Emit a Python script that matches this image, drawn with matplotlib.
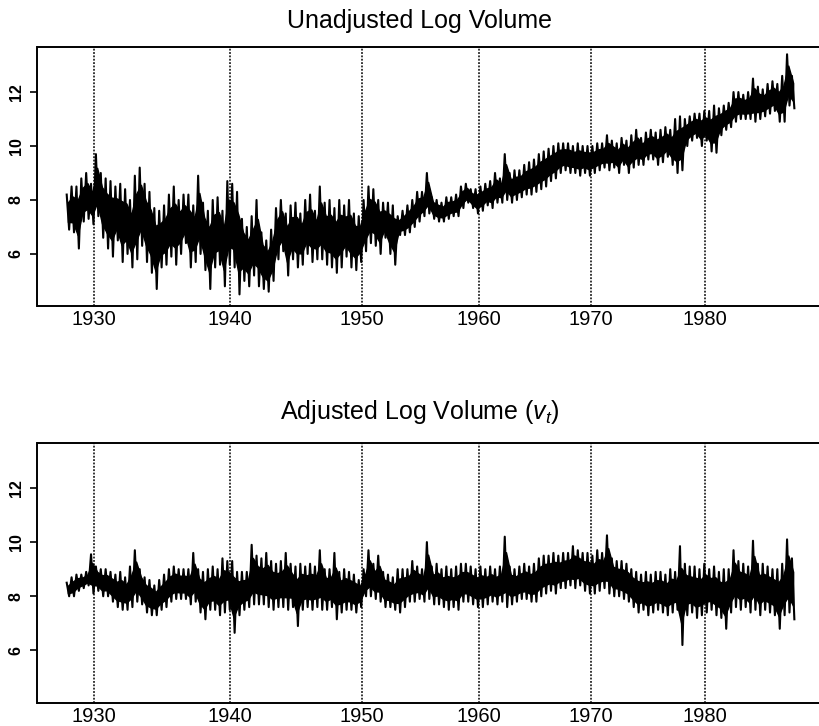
import numpy as np
import matplotlib
matplotlib.use("Agg")
import matplotlib.pyplot as plt

plt.rcParams['font.family'] = ['Liberation Sans', 'DejaVu Sans']
plt.rcParams['mathtext.fontset'] = 'custom'
plt.rcParams['mathtext.it'] = 'Liberation Sans:italic'
plt.rcParams['mathtext.rm'] = 'Liberation Sans'

# daily series, 16127 trading days 1928-1987, summarised as high/low per block
n_days = 16127
year_labels = ['1930', '1940', '1950', '1960', '1970', '1980']
year_index = [610, 3601, 6523, 9115, 11575, 14094]   # trading-day index of Jan 1

vol_hi = [8.2, 8.5, 8.5, 8.8, 9.0, 8.6, 9.7, 9.0, 8.8, 8.7,
          8.5, 8.6, 8.4, 8.0, 8.9, 9.2, 8.6, 8.3, 7.7, 7.6,
          7.8, 8.2, 8.5, 8.0, 8.2, 8.2, 7.8, 8.9, 7.9, 7.6,
          8.0, 8.1, 7.6, 8.7, 8.6, 8.3, 7.3, 7.0, 7.4, 8.0,
          6.8, 6.5, 6.9, 7.7, 8.0, 7.5, 7.8, 7.9, 7.5, 8.0,
          8.2, 7.6, 8.5, 7.9, 8.0, 7.7, 8.0, 7.8, 8.0, 7.5,
          7.4, 8.0, 8.5, 8.4, 8.0, 7.9, 7.9, 7.8, 7.4, 7.6,
          7.8, 8.0, 8.3, 8.3, 9.0, 8.1, 8.0, 7.9, 8.1, 8.1,
          8.2, 8.5, 8.6, 8.4, 8.4, 8.5, 8.6, 8.7, 9.0, 8.8,
          9.7, 9.0, 9.1, 9.1, 9.3, 9.4, 9.5, 9.7, 9.8, 9.9,
          10.0, 10.1, 10.1, 10.1, 10.0, 10.1, 10.0, 10.0, 10.0, 10.1,
          10.1, 10.4, 10.2, 10.1, 10.3, 10.2, 10.4, 10.6, 10.3, 10.5,
          10.6, 10.5, 10.6, 10.7, 10.6, 11.0, 11.1, 11.0, 11.1, 11.2,
          11.2, 11.3, 11.3, 11.5, 11.4, 11.5, 11.6, 12.0, 12.0, 11.9,
          12.0, 12.5, 12.2, 12.1, 12.3, 12.4, 12.3, 12.6, 13.4, 12.6]
vol_lo = [6.9, 6.8, 6.2, 7.2, 7.3, 7.1, 7.4, 6.6, 6.2, 5.9,
          6.5, 5.7, 6.0, 5.5, 5.8, 6.3, 5.7, 5.3, 4.7, 5.5,
          5.6, 5.9, 5.6, 6.0, 6.4, 5.5, 5.7, 6.0, 5.4, 4.7,
          5.5, 5.6, 4.8, 5.6, 5.5, 4.5, 5.0, 4.8, 5.2, 4.8,
          4.7, 4.6, 5.0, 5.8, 6.1, 5.2, 5.8, 5.5, 5.6, 6.0,
          5.7, 5.8, 5.8, 5.6, 5.5, 5.3, 5.5, 5.9, 5.5, 5.4,
          5.7, 6.1, 6.4, 6.3, 6.0, 6.6, 6.0, 5.6, 6.7, 6.7,
          6.8, 7.0, 7.2, 7.4, 7.5, 7.3, 7.2, 7.2, 7.3, 7.4,
          7.4, 7.7, 7.9, 7.7, 7.5, 7.6, 7.8, 7.7, 7.9, 7.9,
          8.0, 7.9, 8.0, 8.1, 8.2, 8.2, 8.3, 8.4, 8.5, 8.7,
          8.8, 9.0, 9.1, 9.0, 9.0, 8.9, 9.0, 8.9, 9.0, 9.1,
          9.2, 9.1, 9.2, 9.0, 9.3, 9.0, 9.2, 9.3, 9.3, 9.5,
          9.5, 9.3, 9.4, 9.6, 9.3, 9.0, 9.1, 10.0, 10.2, 10.3,
          10.0, 10.2, 9.8, 9.75, 10.4, 10.6, 10.7, 10.9, 11.0, 11.0,
          11.0, 10.9, 11.0, 11.1, 11.2, 11.3, 10.9, 10.9, 11.5, 11.4]

adj_hi = [8.5, 8.7, 8.8, 8.8, 8.9, 9.55, 9.1, 9.0, 9.0, 8.9,
          8.8, 8.9, 8.7, 9.1, 9.7, 9.0, 8.7, 8.6, 8.4, 8.6,
          8.8, 9.0, 9.1, 9.0, 9.0, 9.0, 9.6, 9.0, 8.9, 9.0,
          9.1, 9.0, 9.4, 9.3, 9.3, 8.9, 8.9, 8.9, 9.9, 9.5,
          9.4, 9.6, 9.3, 9.2, 9.3, 9.6, 9.2, 9.1, 9.2, 9.1,
          9.2, 9.1, 9.7, 9.0, 9.0, 9.6, 8.9, 9.0, 8.9, 8.8,
          8.6, 9.0, 9.7, 9.2, 9.5, 8.9, 8.8, 8.7, 9.0, 9.0,
          9.0, 9.3, 9.1, 9.0, 10.0, 9.1, 9.2, 9.0, 9.1, 9.0,
          9.1, 9.2, 9.2, 9.1, 9.0, 9.1, 9.0, 9.1, 9.0, 9.1,
          10.2, 9.1, 9.0, 9.1, 9.2, 9.1, 9.2, 9.4, 9.5, 9.5,
          9.6, 9.5, 9.6, 9.6, 9.85, 9.7, 9.6, 9.6, 9.5, 9.7,
          9.6, 10.25, 9.4, 9.3, 9.3, 9.2, 9.0, 8.9, 8.8, 8.9,
          8.8, 8.9, 8.9, 8.8, 9.0, 8.9, 9.85, 9.2, 9.1, 9.1,
          9.0, 9.2, 9.0, 9.1, 8.9, 9.0, 9.0, 9.7, 9.3, 9.2,
          9.1, 10.05, 9.2, 9.2, 9.1, 9.0, 9.0, 9.2, 10.1, 9.4]
adj_lo = [8.0, 8.0, 8.2, 8.3, 8.4, 8.1, 8.2, 8.0, 8.0, 7.8,
          7.6, 7.5, 7.5, 7.6, 7.8, 7.7, 7.4, 7.3, 7.3, 7.5,
          7.6, 7.8, 7.9, 7.9, 7.9, 7.7, 7.8, 7.4, 7.15, 7.5,
          7.5, 7.3, 7.4, 7.5, 6.65, 7.3, 7.5, 7.6, 7.7, 7.7,
          7.7, 7.6, 7.5, 7.6, 7.6, 7.5, 7.6, 6.9, 7.5, 7.6,
          7.5, 7.6, 7.5, 7.5, 7.6, 7.15, 7.4, 7.5, 7.5, 7.4,
          7.6, 8.0, 8.0, 7.9, 7.8, 7.6, 7.6, 7.5, 7.4, 7.6,
          7.8, 7.8, 7.9, 7.8, 7.9, 7.7, 7.7, 7.6, 7.5, 7.6,
          7.5, 7.8, 7.8, 7.7, 7.6, 7.6, 7.7, 7.8, 7.7, 7.8,
          7.6, 7.7, 7.8, 7.9, 7.9, 7.8, 7.8, 8.0, 8.1, 8.2,
          8.1, 8.3, 8.3, 8.4, 8.3, 8.4, 8.2, 8.1, 8.1, 8.2,
          8.3, 8.1, 8.0, 8.0, 7.9, 7.8, 7.6, 7.4, 7.5, 7.3,
          7.4, 7.5, 7.4, 7.3, 7.4, 7.5, 6.2, 7.3, 7.4, 7.2,
          7.3, 7.4, 7.5, 7.3, 7.2, 6.8, 7.4, 7.6, 7.5, 7.6,
          7.4, 7.5, 7.3, 7.5, 7.4, 7.3, 6.8, 7.3, 7.4, 7.15]


def zigzag(hi, lo):
    # alternate block highs and lows along the trading-day axis
    k = len(hi)
    step = n_days / k
    x = np.empty(2 * k)
    y = np.empty(2 * k)
    x[0::2] = np.arange(k) * step
    x[1::2] = np.arange(k) * step + step / 2
    y[0::2] = hi
    y[1::2] = lo
    return x, y


def core_band(hi, lo, inset=0.22):
    # dense middle of each block, inset from its high and low
    hi = np.asarray(hi)
    lo = np.asarray(lo)
    rng = hi - lo
    step = n_days / len(hi)
    x = np.arange(len(hi)) * step + step / 4
    return x, lo + inset * rng, hi - inset * rng


fig = plt.figure(figsize=(8.2, 7.26), dpi=100)
ax1 = fig.add_axes([37.5 / 820, 1 - 306 / 726, 788.5 / 820, 259 / 726])
ax2 = fig.add_axes([37.5 / 820, 1 - 702.7 / 726, 788.5 / 820, 260 / 726])

for ax, hi, lo in [(ax1, vol_hi, vol_lo), (ax2, adj_hi, adj_lo)]:
    for xi in year_index:
        ax.axvline(xi, color='black', lw=1.1, ls=(0, (1.2, 1.0)), zorder=1)
    xc, clo, chi = core_band(hi, lo)
    ax.fill_between(xc, clo, chi, color='black', lw=1.0, zorder=2)
    x, y = zigzag(hi, lo)
    ax.plot(x, y, color='black', lw=1.5, zorder=3)
    ax.set_xlim(-0.04 * n_days, 1.04 * n_days)
    ax.set_ylim(4.07, 13.67)
    ax.set_xticks(year_index)
    ax.set_xticklabels(year_labels, fontsize=14.5)
    ax.set_yticks([6, 8, 10, 12])
    ax.set_yticklabels(['6', '8', '10', '12'], rotation=90, va='center',
                       fontsize=11.5, fontweight='bold')
    ax.tick_params(axis='x', length=0, pad=3)
    ax.tick_params(axis='y', length=5, width=1.2, pad=5)
    for s in ax.spines.values():
        s.set_linewidth(1.4)

fig.text(420 / 820, 1 - 21 / 726, 'Unadjusted Log Volume', ha='center',
         va='center', fontsize=18)
fig.text(420 / 820, 1 - 412 / 726, r'Adjusted Log Volume ($v_t$)', ha='center',
         va='center', fontsize=18)

fig.savefig('out.png', dpi=100)
